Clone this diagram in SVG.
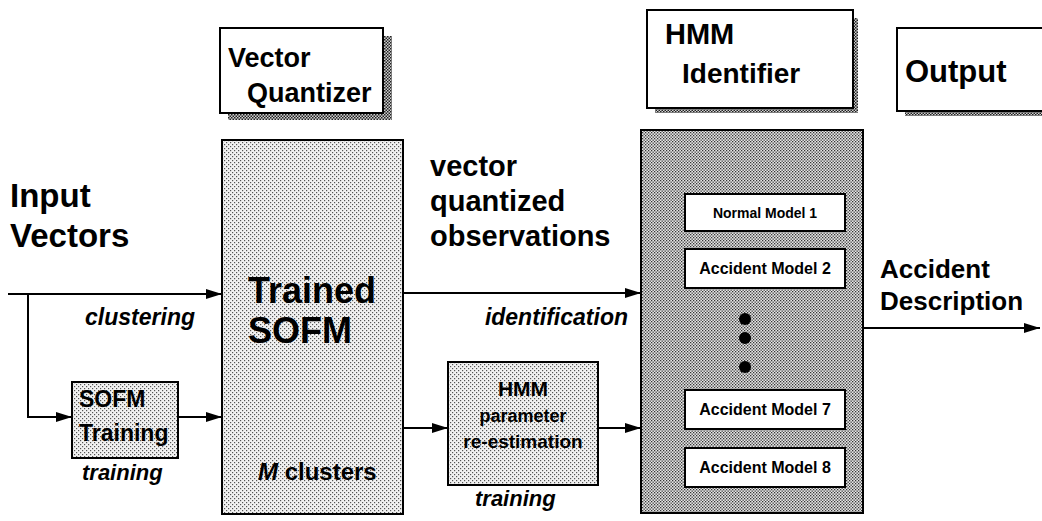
<svg xmlns="http://www.w3.org/2000/svg" width="1042" height="521" viewBox="0 0 1042 521">
<defs>
<pattern id="dotsL" width="4" height="4" patternUnits="userSpaceOnUse">
<rect width="4" height="4" fill="#f2f2f2"/>
<rect x="0" y="0" width="1.2" height="1.2" fill="#555"/>
<rect x="2" y="2" width="1.2" height="1.2" fill="#555"/>
</pattern>
<pattern id="dotsD" width="3" height="3" patternUnits="userSpaceOnUse">
<rect width="3" height="3" fill="#e6e6e6"/>
<rect x="0" y="0" width="1.3" height="1.3" fill="#333"/>
<rect x="1.5" y="1.5" width="1.3" height="1.3" fill="#333"/>
</pattern>
<pattern id="hatch" width="3" height="3" patternUnits="userSpaceOnUse">
<rect width="3" height="3" fill="#cfcfcf"/>
<rect x="0" y="0" width="1.5" height="1.5" fill="#222"/>
<rect x="1.5" y="1.5" width="1.5" height="1.5" fill="#222"/>
</pattern>
<marker id="arr" viewBox="0 0 16 10" refX="16" refY="5" markerWidth="16" markerHeight="10" markerUnits="userSpaceOnUse" orient="auto">
<path d="M0,0 L16,5 L0,10 Z" fill="#000"/>
</marker>
</defs>
<style>
.t{font-family:"Liberation Sans",Arial,sans-serif;font-weight:bold;fill:#000}
.i{font-style:italic}
.box{stroke:#000;stroke-width:2}
.wb{fill:#fff;stroke:#000;stroke-width:2}
.sh{fill:url(#hatch)}
.ln{stroke:#000;stroke-width:2;fill:none}
</style>

<g id="vq-title">
<rect class="sh" x="228" y="36" width="164" height="84"/>
<rect class="wb" x="220" y="28" width="163" height="85"/>
<text class="t" x="228" y="67" font-size="27">Vector</text>
<text class="t" x="247" y="102" font-size="27">Quantizer</text>
</g>

<g id="hmm-title">
<rect class="sh" x="655" y="18" width="203" height="95"/>
<rect class="wb" x="647" y="10" width="206" height="98"/>
<text class="t" x="665" y="44" font-size="29">HMM</text>
<text class="t" x="682" y="83" font-size="28">Identifier</text>
</g>

<g id="output-title">
<rect class="sh" x="905" y="36" width="140" height="80"/>
<rect class="wb" x="897" y="28" width="150" height="83"/>
<text class="t" x="905" y="82" font-size="31">Output</text>
</g>

<g id="input-label">
<text class="t" x="10" y="207" font-size="33">Input</text>
<text class="t" x="10" y="247" font-size="33">Vectors</text>
</g>

<g id="trained-sofm">
<rect class="box" x="222" y="140" width="181" height="374" fill="url(#dotsL)"/>
<text class="t" x="248" y="303" font-size="36">Trained</text>
<text class="t" x="248" y="343" font-size="36">SOFM</text>
<text class="t" x="258" y="480" font-size="24"><tspan class="i">M</tspan> clusters</text>
</g>

<g id="sofm-training">
<rect class="box" x="72" y="382" width="106" height="76" fill="url(#dotsL)"/>
<text class="t" x="79" y="407" font-size="23">SOFM</text>
<text class="t" x="79" y="441" font-size="23">Training</text>
</g>

<g id="hmm-param">
<rect class="box" x="448" y="362" width="150" height="123" fill="url(#dotsL)"/>
<text class="t" x="523" y="396" font-size="21" text-anchor="middle">HMM</text>
<text class="t" x="523" y="422" font-size="18" text-anchor="middle">parameter</text>
<text class="t" x="523" y="448" font-size="19" text-anchor="middle">re-estimation</text>
</g>

<g id="hmm-identifier">
<rect class="box" x="641" y="130" width="222" height="383" fill="url(#dotsD)"/>
<g id="normal-model-1">
<rect class="wb" x="685" y="194" width="160" height="37"/>
<text class="t" x="765" y="218" font-size="14" text-anchor="middle">Normal  Model 1</text>
</g>
<g id="accident-model-2">
<rect class="wb" x="685" y="249" width="160" height="39"/>
<text class="t" x="765" y="274" font-size="16" text-anchor="middle">Accident Model 2</text>
</g>
<g id="ellipsis">
<circle cx="745" cy="319" r="6" fill="#000"/>
<circle cx="745" cy="338" r="6" fill="#000"/>
<circle cx="745" cy="367" r="6" fill="#000"/>
</g>
<g id="accident-model-7">
<rect class="wb" x="685" y="390" width="160" height="39"/>
<text class="t" x="765" y="415" font-size="16" text-anchor="middle">Accident Model 7</text>
</g>
<g id="accident-model-8">
<rect class="wb" x="685" y="448" width="160" height="39"/>
<text class="t" x="765" y="473" font-size="16" text-anchor="middle">Accident Model 8</text>
</g>
</g>

<g id="labels">
<text class="t" x="430" y="176" font-size="29">vector</text>
<text class="t" x="430" y="211" font-size="29">quantized</text>
<text class="t" x="430" y="246" font-size="29">observations</text>
<text class="t i" x="628" y="325" font-size="23" text-anchor="end">identification</text>
<text class="t i" x="195" y="325" font-size="23" text-anchor="end">clustering</text>
<text class="t i" x="82" y="480" font-size="22">training</text>
<text class="t i" x="475" y="506" font-size="22">training</text>
<text class="t" x="880" y="278" font-size="26">Accident</text>
<text class="t" x="880" y="310" font-size="26">Description</text>
</g>

<g id="connectors">
<path class="ln" d="M8,294 H222" marker-end="url(#arr)"/>
<path class="ln" d="M28,294 V417 H72" marker-end="url(#arr)"/>
<path class="ln" d="M178,417 H222" marker-end="url(#arr)"/>
<path class="ln" d="M403,293 H641" marker-end="url(#arr)"/>
<path class="ln" d="M403,428 H448" marker-end="url(#arr)"/>
<path class="ln" d="M598,428 H641" marker-end="url(#arr)"/>
<path class="ln" d="M863,328 H1040" marker-end="url(#arr)"/>
</g>
</svg>
